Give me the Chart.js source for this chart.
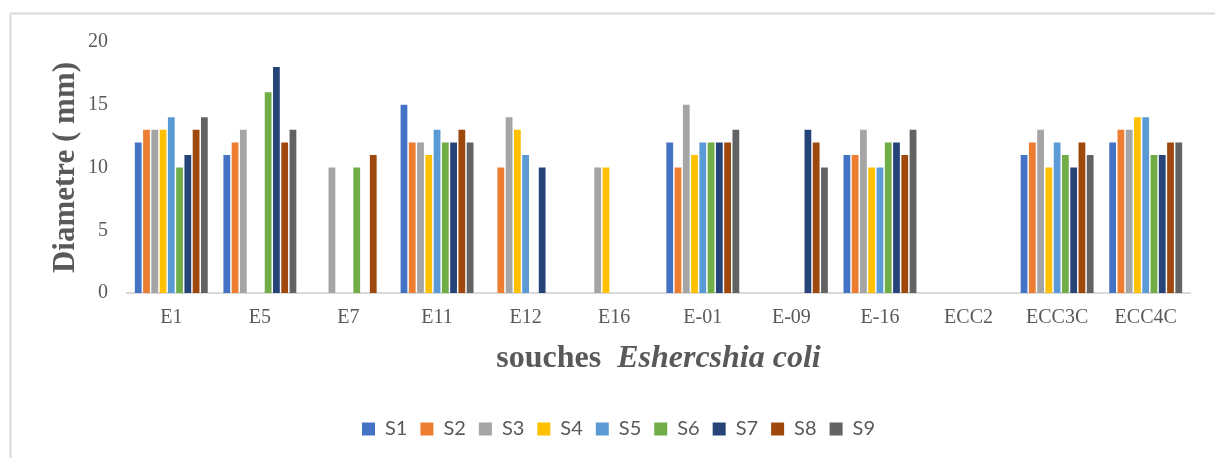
<!DOCTYPE html>
<html>
<head>
<meta charset="utf-8">
<script src="https://cdn.jsdelivr.net/npm/chart.js@4.4.1/dist/chart.umd.min.js"></script>
<style>
  html, body { margin: 0; padding: 0; background: #ffffff; }
  #wrap { position: relative; width: 1215px; height: 458px; }
</style>
</head>
<body>
<div id="wrap"><canvas id="chart" width="1215" height="458"></canvas></div>
<script>
// Strains tested (x categories)
const categories = ['E1', 'E5', 'E7', 'E11', 'E12', 'E16', 'E-01', 'E-09', 'E-16', 'ECC2', 'ECC3C', 'ECC4C'];

// Inhibition zone diameters (mm) per sample; null = no zone
const S1 = [12, 11, null, 15, null, null, 12, null, 11, null, 11, 12];
const S2 = [13, 12, null, 12, 10, null, 10, null, 11, null, 12, 13];
const S3 = [13, 13, 10, 12, 14, 10, 15, null, 13, null, 13, 13];
const S4 = [13, null, null, 11, 13, 10, 11, null, 10, null, 10, 14];
const S5 = [14, null, null, 13, 11, null, 12, null, 10, null, 12, 14];
const S6 = [10, 16, 10, 12, null, null, 12, null, 12, null, 11, 11];
const S7 = [11, 18, null, 12, 10, null, 12, 13, 12, null, 10, 11];
const S8 = [13, 12, 11, 13, null, null, 12, 12, 11, null, 12, 12];
const S9 = [14, 13, null, 12, null, null, 13, 10, 13, null, 11, 12];

const seriesNames = ['S1', 'S2', 'S3', 'S4', 'S5', 'S6', 'S7', 'S8', 'S9'];
const seriesValues = [S1, S2, S3, S4, S5, S6, S7, S8, S9];
const seriesColors = ['#4472C4', '#ED7D31', '#A5A5A5', '#FFC000', '#5B9BD5', '#70AD47', '#264478', '#9E480E', '#636363'];

const yTicks = [0, 5, 10, 15, 20];

const textGray = '#595959';
const serif = "'Liberation Serif', 'Times New Roman', serif";

// Light frame around the whole figure
const framePlugin = {
  id: 'frame',
  beforeDraw(chart) {
    const ctx = chart.ctx;
    ctx.save();
    ctx.strokeStyle = '#d9d9d9';
    ctx.lineWidth = 2;
    ctx.strokeRect(10.5, 13.5, chart.width + 10, chart.height + 10);
    ctx.restore();
  }
};

// X axis title: "souches" in bold, species name in bold italic
const xTitlePlugin = {
  id: 'xTitle',
  afterDraw(chart) {
    const ctx = chart.ctx;
    const area = chart.chartArea;
    const size = 32;
    const partA = 'souches';
    const partB = 'Eshercshia coli';
    const fontA = `bold ${size}px ${serif}`;
    const fontB = `italic bold ${size}px ${serif}`;
    ctx.save();
    ctx.fillStyle = textGray;
    ctx.textBaseline = 'alphabetic';
    ctx.textAlign = 'left';
    ctx.font = fontA;
    const wA = ctx.measureText(partA).width;
    const gap = size * 0.5;
    ctx.font = fontB;
    const wB = ctx.measureText(partB).width;
    const total = wA + gap + wB;
    const x0 = (area.left + area.right) / 2 - total / 2;
    const y = area.bottom + 74;
    ctx.font = fontA;
    ctx.fillText(partA, x0, y);
    ctx.font = fontB;
    ctx.fillText(partB, x0 + wA + gap, y);
    ctx.restore();
  }
};

const datasets = seriesNames.map((name, i) => ({
  label: name,
  data: seriesValues[i],
  backgroundColor: seriesColors[i],
  borderWidth: 0,
  categoryPercentage: 0.84,
  barPercentage: 0.82
}));

new Chart(document.getElementById('chart'), {
  type: 'bar',
  data: { labels: categories, datasets },
  plugins: [framePlugin, xTitlePlugin],
  options: {
    responsive: false,
    devicePixelRatio: 1,
    animation: false,
    layout: { padding: { left: 47, right: 25, top: 42, bottom: 9 } },
    plugins: {
      tooltip: { enabled: false },
      legend: {
        position: 'bottom',
        align: 'center',
        labels: {
          boxWidth: 13,
          boxHeight: 13,
          padding: 13,
          color: textGray,
          font: { family: "Lato, 'Open Sans', sans-serif", size: 20 }
        }
      }
    },
    scales: {
      x: {
        offset: true,
        grid: { display: false, drawTicks: false },
        border: { display: true, color: '#d9d9d9', width: 2 },
        ticks: {
          color: textGray,
          padding: 13,
          maxRotation: 0,
          autoSkip: false,
          font: { family: serif, size: 20 }
        },
        afterFit(scale) { scale.height = 113; }
      },
      y: {
        min: 0,
        max: 20,
        afterBuildTicks(scale) { scale.ticks = yTicks.map(v => ({ value: v })); },
        grid: { display: false, drawTicks: false },
        border: { display: false },
        ticks: {
          color: textGray,
          padding: 19,
          font: { family: serif, size: 20 }
        },
        title: {
          display: true,
          text: 'Diametre ( mm)',
          color: textGray,
          padding: { top: 0, bottom: 0 },
          font: { family: serif, size: 31, weight: 'bold' }
        },
        afterFit(scale) { scale.width = 80; }
      }
    }
  }
});
</script>
</body>
</html>
